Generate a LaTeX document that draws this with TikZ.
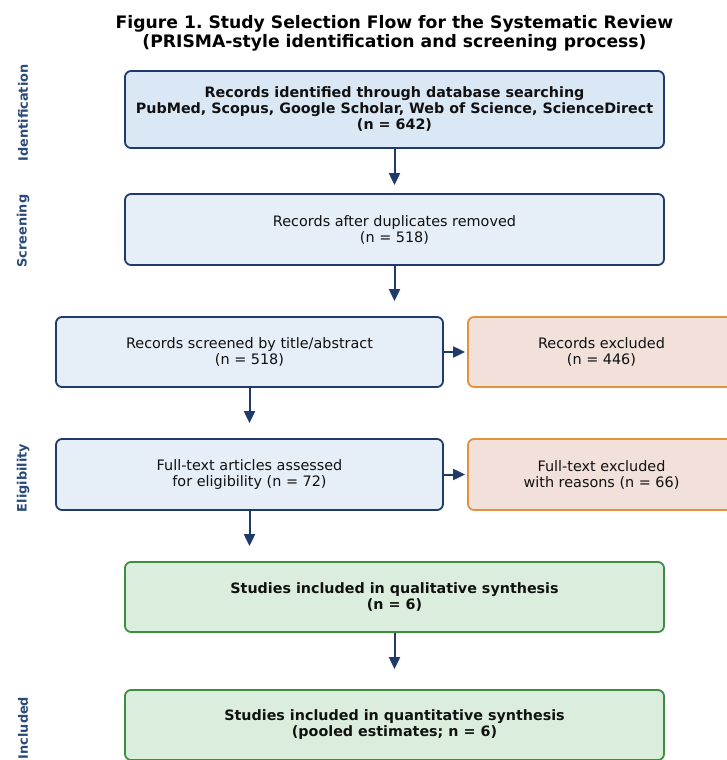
\documentclass[tikz,border=0pt]{standalone}
\usepackage{fontspec}
\setmainfont{DejaVu Sans}
\usetikzlibrary{arrows.meta}
\frenchspacing
\definecolor{bborder}{HTML}{1F3B6B}
\definecolor{bfillA}{HTML}{DAE7F5}
\definecolor{bfillB}{HTML}{E6EEF7}
\definecolor{oborder}{HTML}{E2933B}
\definecolor{ofill}{HTML}{F2E0DB}
\definecolor{gborder}{HTML}{3E8E41}
\definecolor{gfill}{HTML}{DBEEDD}
\definecolor{sidecol}{HTML}{2A4A7A}
\definecolor{txt}{HTML}{111111}
\begin{document}
\begin{tikzpicture}[x=1pt,y=-1pt,
  box/.style={rectangle, rounded corners=6pt, line width=1.8pt, align=center,
    text=txt, font=\fontsize{14.4}{16}\selectfont, inner sep=0pt},
  bluebox/.style={box, draw=bborder, fill=bfillB},
  blueboxA/.style={box, draw=bborder, fill=bfillA, font=\bfseries\fontsize{14.3}{16}\selectfont},
  orangebox/.style={box, draw=oborder, fill=ofill},
  greenbox/.style={box, draw=gborder, fill=gfill, font=\bfseries\fontsize{14.3}{16}\selectfont},
  side/.style={rotate=90, text=sidecol, font=\bfseries\fontsize{12.9}{14}\selectfont},
  arr/.style={draw=bborder, line width=2pt, -{Triangle[length=12pt,width=11pt]}}
]
\useasboundingbox (0,0) rectangle (727,760);
\clip (0,0) rectangle (727,760);

\node[align=center, font=\bfseries\fontsize{17.2}{19}\selectfont, text=black] (title) at (394.5,33.5)
  {Figure 1. Study Selection Flow for the Systematic Review\\(PRISMA-style identification and screening process)};

\node[blueboxA, minimum width=539pt, minimum height=77pt] (b1) at (394.5,109.5)
  {Records identified through database searching\\PubMed, Scopus, Google Scholar, Web of Science, ScienceDirect\\(n = 642)};
\node[bluebox, minimum width=539pt, minimum height=71pt] (b2) at (394.5,229.5)
  {Records after duplicates removed\\(n = 518)};
\node[bluebox, minimum width=387pt, minimum height=70pt] (b3) at (249.5,352)
  {Records screened by title/abstract\\(n = 518)};
\node[orangebox, minimum width=267pt, minimum height=70pt] (b4) at (601.5,352)
  {Records excluded\\(n = 446)};
\node[bluebox, minimum width=387pt, minimum height=71pt] (b5) at (249.5,474.5)
  {Full-text articles assessed\\for eligibility (n = 72)};
\node[orangebox, minimum width=267pt, minimum height=71pt] (b6) at (601.5,474.5)
  {Full-text excluded\\with reasons (n = 66)};
\node[greenbox, minimum width=539pt, minimum height=70pt] (b7) at (394.5,597)
  {Studies included in qualitative synthesis\\(n = 6)};
\node[greenbox, minimum width=539pt, minimum height=70pt] (b8) at (394.5,725)
  {Studies included in quantitative synthesis\\(pooled estimates; n = 6)};

\node[side] (s1) at (23,113) {Identification};
\node[side] (s2) at (23,231) {Screening};
\node[side] (s3) at (23,478) {Eligibility};
\node[side] (s4) at (23,728) {Included};

\draw[arr, shorten >=8pt] (b1.south) -- (b2.north);
\draw[arr, shorten >=15pt] (b2.south) -- (b2.south |- b3.north);
\draw[arr, shorten >=2pt] (b3.east) -- (b4.west);
\draw[arr, shorten >=15pt] (b3.south) -- (b5.north);
\draw[arr, shorten >=2pt] (b5.east) -- (b6.west);
\draw[arr, shorten >=15pt] (b5.south) -- (b5.south |- b7.north);
\draw[arr, shorten >=20pt] (b7.south) -- (b8.north);
\end{tikzpicture}
\end{document}
